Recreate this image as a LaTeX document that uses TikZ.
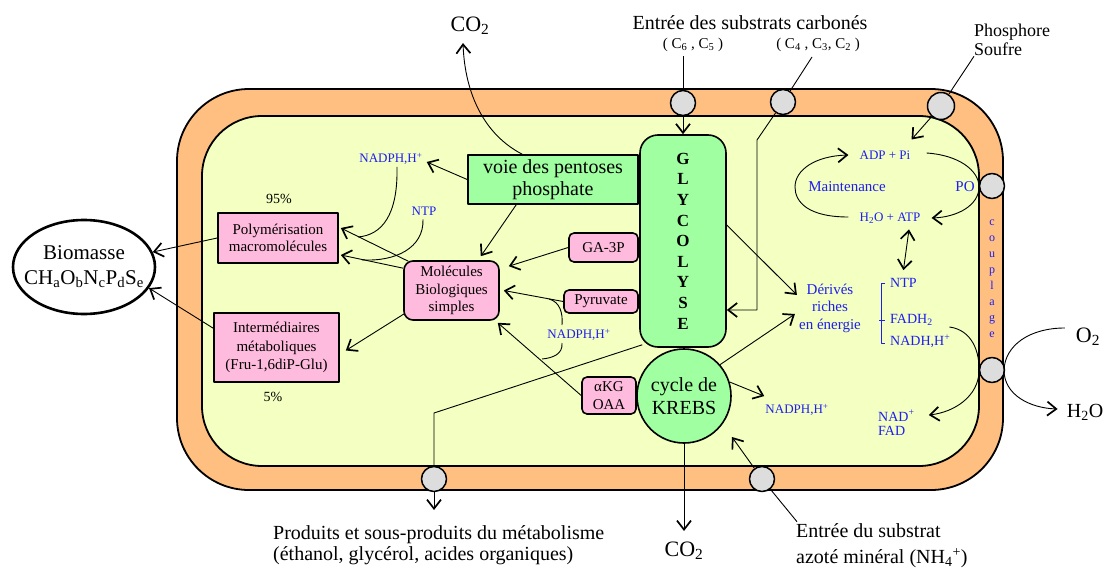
\documentclass[tikz,border=0pt]{standalone}
\usepackage{fontspec}
\setmainfont{Liberation Serif}
\usetikzlibrary{arrows.meta,calc,shapes.geometric}
\definecolor{memb}{RGB}{255,191,128}
\definecolor{cyto}{RGB}{244,255,194}
\definecolor{rose}{RGB}{255,187,221}
\definecolor{vert}{RGB}{160,255,160}
\definecolor{porte}{RGB}{221,221,221}
\definecolor{bleu}{RGB}{30,30,240}
\begin{document}
\begin{tikzpicture}[x=1pt,y=-1pt, line join=round,
  fs/.style 2 args={font=\fontsize{#1}{#2}\selectfont},
  arr/.style={-{Straight Barb[length=9pt,width=14pt,line width=1.7pt]}},
  darr/.style={{Straight Barb[length=9pt,width=14pt,line width=1.7pt]}-{Straight Barb[length=9pt,width=14pt,line width=1.7pt]}},
  conn/.style={line width=0.9pt},
  rbox/.style={draw, fill=rose, line width=1.6pt, inner sep=0pt, align=center},
  gbox/.style={draw, fill=vert, line width=1.6pt, inner sep=0pt, align=center},
  port/.style={circle, draw, fill=porte, line width=1.5pt, minimum size=25pt, inner sep=0pt},
  btxt/.style={text=bleu, inner sep=0pt, align=center},
  ktxt/.style={inner sep=0pt, align=center},
]
\useasboundingbox (0,0) rectangle (1104,570);
\fill[white] (0,0) rectangle (1104,570);
% membrane and cytoplasm
\draw[fill=memb, line width=1.8pt, rounded corners=72pt] (177,89) rectangle (1003,490);
\draw[fill=cyto, line width=1.8pt, rounded corners=60pt] (202,116) rectangle (979,466);

% transport ports
\node[port] (p1) at (683,103) {};
\node[port] (p2) at (783,102) {};
\node[port, minimum size=27pt] (p3) at (941,106) {};
\node[port] (p4) at (992,186) {};
\node[port] (p5) at (992,370) {};
\node[port] (p6) at (434,479) {};
\node[port] (p7) at (762,479) {};

% main nodes
\node[draw, ellipse, line width=2.6pt, minimum width=142pt, minimum height=94pt] (bio) at (84,267) {};
\node[ktxt, fs={21}{25}] (biotxt) at (bio.center) {Biomasse\\CH\textsubscript{a}O\textsubscript{b}N\textsubscript{c}P\textsubscript{d}S\textsubscript{e}};
\node[rbox, fs={15}{17}, minimum width=120pt, minimum height=50pt] (poly) at (278,238) {Polymérisation\\macromolécules};
\node[rbox, fs={15}{18.5}, minimum width=125pt, minimum height=69pt] (inter) at (276.5,347.5) {Intermédiaires\\métaboliques\\(Fru-1,6diP-Glu)};
\node[rbox, rounded corners=9pt, fs={15}{17.5}, minimum width=95pt, minimum height=59pt] (mol) at (451.5,290.5) {Molécules\\Biologiques\\simples};
\node[gbox, fs={20}{22}, minimum width=170pt, minimum height=49pt] (pent) at (553,179.5) {voie des pentoses\\phosphate};
\node[gbox, rounded corners=18pt, minimum width=86pt, minimum height=212pt, font=\bfseries\fontsize{17}{20.6}\selectfont] (gly) at (683,241) {G\\L\\Y\\C\\O\\L\\Y\\S\\E};
\node[gbox, circle, minimum size=94pt, fs={20}{23}] (kr) at (684,396) {cycle de\\KREBS};
\node[rbox, rounded corners=5pt, fs={15}{17}, minimum width=69pt, minimum height=29pt] (ga) at (603.5,247.5) {GA-3P};
\node[rbox, rounded corners=5pt, fs={15}{17}, minimum width=74pt, minimum height=23pt] (pyr) at (601,301.5) {Pyruvate};
\node[rbox, rounded corners=5pt, fs={15}{18}, minimum width=54pt, minimum height=37pt] (akg) at (609,395.5) {αKG\\OAA};

% black labels
\node[ktxt, fs={22}{24}] (co2t) at (470,26) {CO\textsubscript{2}};
\node[ktxt, fs={20}{22}] (ent) at (750,23) {Entrée des substrats carbonés};
\node[ktxt, fs={15}{17}] (c65) at (693,45) {( C\textsubscript{6} , C\textsubscript{5} )};
\node[ktxt, fs={15}{17}] (c43) at (818,45) {( C\textsubscript{4} , C\textsubscript{3}, C\textsubscript{2} )};
\node[ktxt, fs={18}{19.5}, align=left, anchor=west] (phos) at (974,40) {Phosphore\\Soufre};
\node[ktxt, fs={22}{24}] (o2) at (1088,337) {O\textsubscript{2}};
\node[ktxt, fs={20}{22}] (h2o) at (1085,412) {H\textsubscript{2}O};
\node[ktxt, fs={22}{24}] (co2b) at (684,551) {CO\textsubscript{2}};
\node[ktxt, fs={20}{20.5}, align=left, anchor=west] (prod) at (273,545) {Produits et sous-produits du métabolisme\\(éthanol, glycérol, acides organiques)};
\node[ktxt, fs={20}{26}, align=left, anchor=west] (azo) at (796,546) {Entrée du substrat\\azoté minéral (NH\textsubscript{4}\textsuperscript{+})};
\node[ktxt, fs={14}{16}] (p95) at (279,199) {95\%};
\node[ktxt, fs={14}{16}] (p5t) at (273,397) {5\%};

% blue labels
\node[btxt, fs={13}{15}] (nad1) at (391,159) {NADPH,H\textsuperscript{+}};
\node[btxt, fs={13}{15}] (ntp1) at (424,211) {NTP};
\node[btxt, fs={13}{15}] (nad2) at (579,335) {NADPH,H\textsuperscript{+}};
\node[btxt, fs={13}{15}] (nad3) at (797,410) {NADPH,H\textsuperscript{+}};
\node[btxt, fs={13}{15}] (adp) at (885,155) {ADP + Pi};
\node[btxt, fs={15}{17}] (maint) at (847,187) {Maintenance};
\node[btxt, fs={15}{17}] (po) at (965,187) {PO};
\node[btxt, fs={13}{15}] (atp) at (890,218) {H\textsubscript{2}O + ATP};
\node[btxt, fs={15}{17.5}] (der) at (830,308) {Dérivés\\riches\\en énergie};
\node[btxt, fs={14}{16}, anchor=west] (ntp2) at (890,283) {NTP};
\node[btxt, fs={14}{16}, anchor=west] (fadh) at (890,320) {FADH\textsubscript{2}};
\node[btxt, fs={14}{16}, anchor=west] (nadh) at (890,341) {NADH,H\textsuperscript{+}};
\node[btxt, fs={14}{14.5}, align=left, anchor=west] (nadp) at (878,423) {NAD\textsuperscript{+}\\FAD};
\node[btxt, fs={12}{16}] (coup) at (992,279) {c\\o\\u\\p\\l\\a\\g\\e};

% connectors to biomass
\draw[conn,arr] (poly.west) -- (bio);
\draw[conn,arr] ($(inter.north west)+(0,16)$) -- (bio.-18);
% molecules -> polymerisation / intermediaires
\draw[conn,arr] ($(mol.north west)+(5,1)$) -- ($(poly.east)+(2,-10)$);
\draw[conn,arr] ($(mol.north west)+(0,8)$) -- ($(poly.east)+(2,17)$);
\draw[conn] ($(nad1.south)+(6,2)$) .. controls (398,215) and (382,235) .. (358,237);
\draw[conn] ($(ntp1.south)+(-1,4)$) .. controls (424,248) and (395,262) .. (362,259.8);
\draw[conn,arr] ($(mol.south west)+(1,-7)$) -- ($(inter.east)+(6,3)$);
% pentoses
\draw[conn,arr] (pent.west) -- ($(nad1.east)+(4,3)$);
\draw[conn,arr] ($(pent.south west)+(49,0)$) -- ($(mol.north east)+(-19,-4)$);
\draw[conn,arr] ($(pent.north west)+(55,0)$) .. controls (485,135) and (465,95) .. ($(co2t.south)+(-7,8)$);
% precursors -> molecules
\draw[conn,arr] (ga.west) -- ($(mol.north east)+(9,6)$);
\draw[conn,arr] (pyr.west) -- ($(mol.east)+(4,0)$);
\draw[conn,arr] (akg.west) -- ($(mol.south east)+(-2,2)$);
\draw[conn] (549,299) .. controls (560,302) and (563,313) .. (562,325);
\draw[conn] (562,343) .. controls (563,354) and (553,358) .. (542,359);
% carbon substrate entries
\draw[conn] ($(c65.south -| p1.center)+(0,4)$) -- (p1);
\draw[conn,arr] (p1) -- (gly.north);
\draw[conn] ($(c43.south)+(-6,5)$) -- (p2);
\coordinate (k1) at (757,140);
\coordinate (k2) at (757,310);
\draw[conn,arr] (p2) -- (k1) -- (k2) -- (k2 -| gly.east);
% phosphore / soufre
\draw[conn] (phos.south west) -- (p3);
\draw[conn,arr] (p3) -- ($(adp.north east)+(1,-11)$);
% maintenance cycle
\draw[conn,arr] ($(atp.west)+(-11,-1)$) .. controls (808,217) and (795,202) .. (795,187) .. controls (795,170) and (815,156) .. ($(adp.west)+(-11,0)$);
\draw[conn,arr] ($(adp.east)+(16,-2)$) .. controls (958,155) and (979,170) .. (979,187) .. controls (979,205) and (958,217) .. ($(atp.east)+(11,0)$);
\draw[conn,darr] ($(atp.south)+(19,6)$) -- ($(ntp2.north)+(0,-8)$);
% bracket
\draw[bleu, line width=0.9pt] (885,283) -- (881,283) -- (881,343) -- (885,343);
\draw[bleu, line width=0.9pt] (879,320) -- (885,320);
% glycolysis / krebs products
\draw[conn,arr] ($(gly.east)+(0,-16)$) -- ($(der.west)+(-2,-13)$);
\draw[conn,arr] (kr.41) -- ($(der.west)+(-4,6)$);
\draw[conn,arr] (kr.17) -- ($(nad3.north west)+(-1,-8)$);
\draw[conn,arr] (kr.south) -- ($(co2b.north)+(0,-11)$);
% by-products
\coordinate (k3) at (434,413);
\draw[conn] ($(gly.south west)+(3,-3)$) -- (k3) -- (p6);
\draw[conn,arr] (p6) -- ($(p6.center)+(0,31)$);
% nitrogen
\draw[conn] ($(azo.north west)+(1,-2)$) -- (p7);
\draw[conn,arr] (p7) -- ($(kr.center)+(48,41)$);
% respiration
\draw[conn,arr] ($(nadh.east)+(-1,-14)$) .. controls (972,330) and (980,352) .. (979,372) .. controls (978,396) and (955,412) .. ($(nadp.east)+(14,-8)$);
\draw[conn,arr] ($(o2.west)+(-11,-9)$) .. controls (1030,328) and (1005,345) .. (1004,370) .. controls (1004,395) and (1030,408) .. ($(h2o.west)+(-9,-3)$);
\end{tikzpicture}
\end{document}
